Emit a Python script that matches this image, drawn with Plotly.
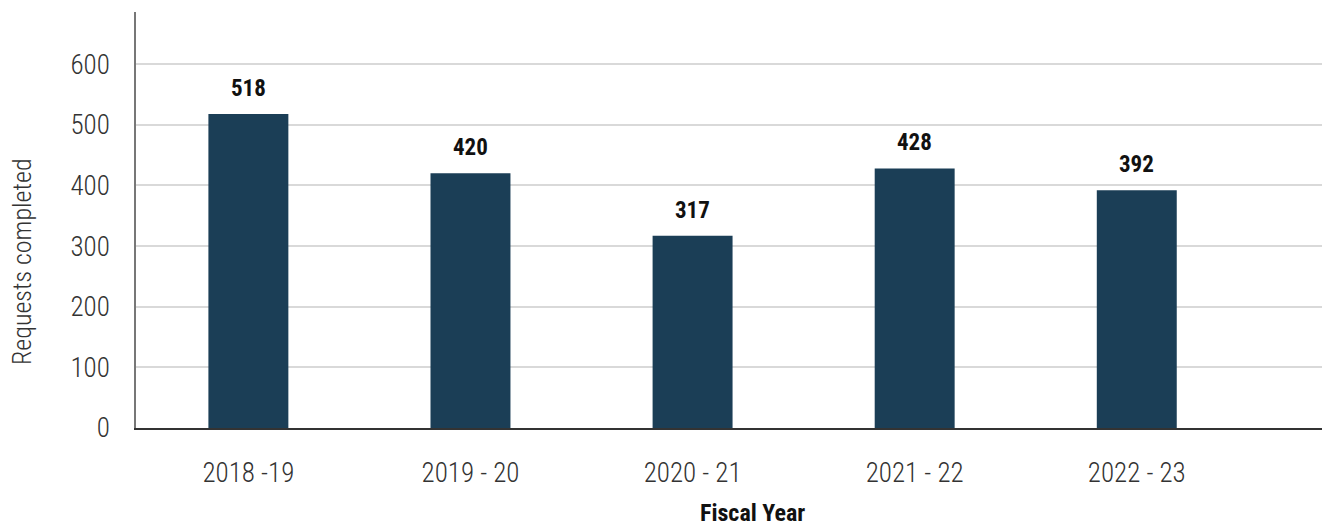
import plotly.graph_objects as go

categories = ["2018 -19", "2019 - 20", "2020 - 21", "2021 - 22", "2022 - 23"]
requests_completed = [518, 420, 317, 428, 392]
y_ticks = [0, 100, 200, 300, 400, 500, 600]

FONT = "Roboto Condensed, Liberation Sans Narrow, Arial Narrow, Roboto, sans-serif"
BAR = "#1b3e56"

# the page body has an 8px default margin, so the figure is drawn 8px in
OFF = 8
W, H = 1330 - OFF, 529 - OFF
ML, MR, MT = 136 - OFF, 0, 12 - OFF
PLOT_BOTTOM = 428 - OFF
MB = H - PLOT_BOTTOM

x_idx = list(range(len(categories)))

fig = go.Figure(
    go.Bar(
        x=x_idx,
        y=requests_completed,
        width=0.36,
        marker=dict(color=BAR, line=dict(width=0)),
        hoverinfo="x+y",
    )
)

# value labels above bars
for xi, v in zip(x_idx, requests_completed):
    fig.add_annotation(
        x=xi, y=v, xref="x", yref="y",
        text=str(v), showarrow=False,
        yanchor="bottom", yshift=10,
        font=dict(family=FONT, size=23, color="#111111", weight="bold"),
    )

pw = W - ML - MR
ph = H - MT - MB

# axis titles (positions in page pixels, converted to paper coords)
fig.add_annotation(
    x=((22 - OFF) - ML) / pw, y=(PLOT_BOTTOM - (262 - OFF)) / ph,
    xref="paper", yref="paper",
    text="Requests completed", showarrow=False, textangle=-90,
    xanchor="center", yanchor="middle",
    font=dict(family=FONT, size=26, color="#333333", weight=300),
)
fig.add_annotation(
    x=((752 - OFF) - ML) / pw, y=(PLOT_BOTTOM - (513 - OFF)) / ph,
    xref="paper", yref="paper",
    text="Fiscal Year", showarrow=False,
    xanchor="center", yanchor="middle",
    font=dict(family=FONT, size=24, color="#111111", weight="bold"),
)

fig.update_layout(
    width=W,
    height=H,
    margin=dict(l=ML, r=MR, t=MT, b=MB),
    paper_bgcolor="white",
    plot_bgcolor="white",
    showlegend=False,
    font=dict(family=FONT, size=26, color="#333333"),
)

fig.update_xaxes(
    range=[-0.506, 4.87],
    tickmode="array",
    tickvals=x_idx,
    ticktext=categories,
    showgrid=False,
    showline=True,
    linecolor="#333333",
    linewidth=1.5,
    ticks="",
    ticklabelstandoff=20,
    tickfont=dict(family=FONT, size=27, color="#333333", weight=300),
    automargin=False,
    zeroline=False,
)

fig.update_yaxes(
    range=[0, 686],
    tickmode="array",
    tickvals=y_ticks,
    showgrid=True,
    gridcolor="#d9d9d9",
    gridwidth=1.5,
    showline=True,
    linecolor="#777777",
    linewidth=1.5,
    ticks="",
    ticklabelstandoff=19,
    tickfont=dict(family=FONT, size=27, color="#333333", weight=300),
    automargin=False,
    zeroline=False,
)

fig.write_html("out.html")
